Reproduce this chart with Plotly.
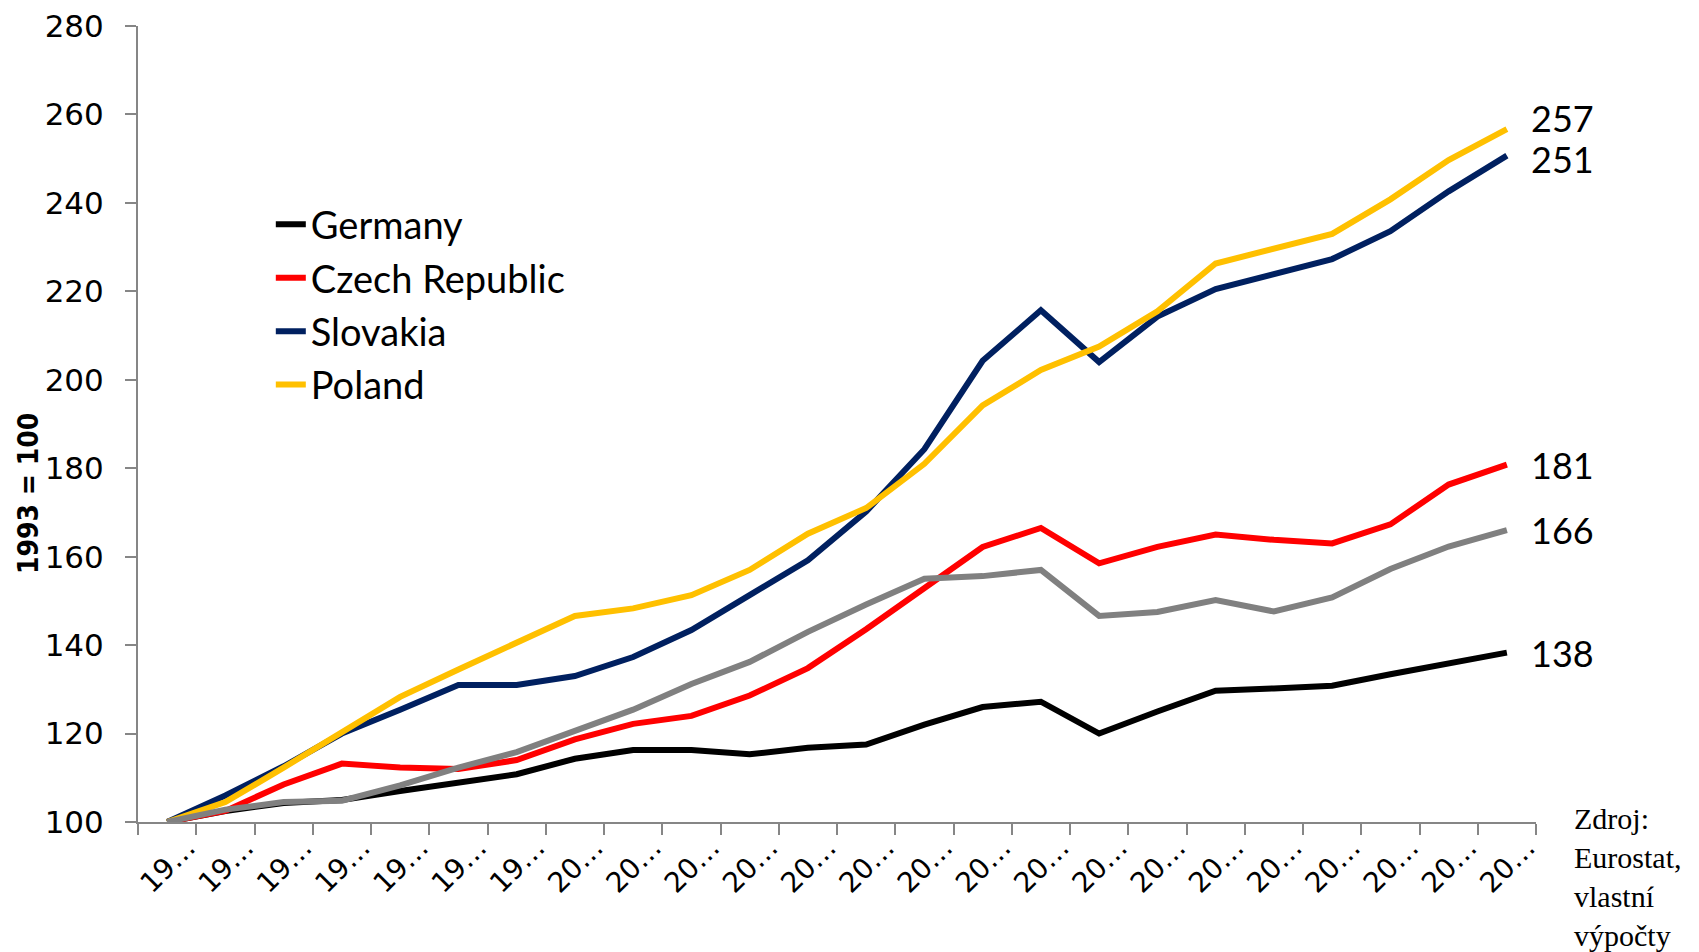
import plotly.graph_objects as go

years = [str(y) for y in range(1993, 2017)]
tick_labels = ["19…", "19…", "19…", "19…", "19…", "19…", "19…",
               "20…", "20…", "20…", "20…", "20…", "20…", "20…", "20…", "20…",
               "20…", "20…", "20…", "20…", "20…", "20…", "20…", "20…"]

germany = [100, 102.5, 104.3, 105.0, 107.0, 108.8, 110.8, 114.3, 116.3, 116.3, 115.3, 116.8,
           117.5, 122.0, 126.0, 127.2, 120.0, 125.0, 129.7, 130.2, 130.8, 133.4, 135.7, 138.3]
czech = [100, 102.5, 108.5, 113.2, 112.3, 112.0, 114.0, 118.7, 122.2, 124.0, 128.6, 134.8,
         143.6, 153.0, 162.2, 166.5, 158.5, 162.2, 165.0, 163.8, 163.0, 167.3, 176.3, 180.8]
slovakia = [100, 106.0, 112.6, 120.0, 125.4, 131.0, 131.0, 133.0, 137.3, 143.4, 151.3, 159.2,
            170.2, 184.3, 204.3, 215.7, 204.0, 214.3, 220.5, 224.0, 227.3, 233.6, 242.6, 250.7]
poland = [100, 104.5, 112.3, 120.3, 128.3, 134.5, 140.5, 146.6, 148.3, 151.3, 157.0, 165.2,
          171.0, 181.0, 194.2, 202.2, 207.5, 215.5, 226.3, 229.8, 233.0, 240.8, 249.7, 256.7]
other = [100, 102.8, 104.5, 104.8, 108.3, 112.3, 115.8, 120.7, 125.4, 131.2, 136.2, 143.0,
         149.2, 155.0, 155.6, 157.0, 146.6, 147.5, 150.2, 147.6, 150.8, 157.2, 162.3, 166.0]

end_labels = ["138", "181", "251", "257", "166"]

series = [
    ("Germany", germany, "#000000", True),
    ("Czech Republic", czech, "#FF0000", True),
    ("Slovakia", slovakia, "#002060", True),
    ("Poland", poland, "#FFC000", True),
    ("Other", other, "#808080", False),
]

fig = go.Figure()
for name, vals, col, show in series:
    fig.add_trace(go.Scatter(
        x=years, y=vals, name=name, mode="lines",
        line=dict(color=col, width=6), showlegend=show,
        legendgroup=name,
    ))

last_idx = len(years) - 1
yshifts = [0, 0, -3, 11, 0]
for (name, vals, col, show), lab, ys in zip(series, end_labels, yshifts):
    fig.add_annotation(x=last_idx, y=vals[-1], xref="x", yref="y", text=lab, showarrow=False,
                       xanchor="left", yanchor="middle", xshift=22, yshift=ys,
                       font=dict(family="Lato, Open Sans, sans-serif", size=36, color="#000000"))

fig.add_annotation(xref="paper", yref="paper", x=1.0, y=0.0, xshift=36, yshift=22,
                   text="Zdroj:<br>Eurostat,<br>vlastní<br>výpočty", showarrow=False,
                   xanchor="left", yanchor="top", align="left",
                   font=dict(family="Liberation Serif, Times New Roman, serif", size=30, color="#000000"))

fig.add_annotation(xref="paper", yref="paper", x=0.0, y=0.412, xshift=-110,
                   text="<b>1993 = 100</b>", textangle=-90, showarrow=False,
                   xanchor="center", yanchor="middle",
                   font=dict(family="DejaVu Sans Condensed, Liberation Sans, Arial, sans-serif", size=28, color="#000000"))

fig.update_layout(
    width=1691, height=944,
    margin=dict(l=130, r=163, t=18, b=130, autoexpand=False),
    paper_bgcolor="white", plot_bgcolor="white",
    showlegend=True,
    legend=dict(x=0.095, y=0.79, xanchor="left", yanchor="top",
                font=dict(family="Lato, Open Sans, sans-serif", size=38, color="#000000"),
                traceorder="grouped", tracegroupgap=1, bgcolor="rgba(0,0,0,0)"),
    xaxis=dict(type="category", range=[-0.5, 23.5], tickmode="array", tickvals=years,
               ticktext=tick_labels, tickangle=-45, tickson="boundaries",
               ticks="outside", ticklen=11, tickcolor="#868686", tickwidth=2,
               showline=True, linecolor="#868686", linewidth=2, showgrid=False, zeroline=False,
               ticklabelstandoff=-4, ticklabelshift=20,
               tickfont=dict(family="DejaVu Sans, sans-serif", size=28, color="#000000")),
    yaxis=dict(range=[100, 280], dtick=20, tick0=100, ticks="outside", ticklen=11,
               tickcolor="#868686", tickwidth=2, showline=True, linecolor="#868686", linewidth=2,
               showgrid=False, zeroline=False, ticklabelstandoff=15, ticklabeloverflow="allow",
               tickfont=dict(family="DejaVu Sans, sans-serif", size=31, color="#000000")),
)

fig.write_html("out.html")
